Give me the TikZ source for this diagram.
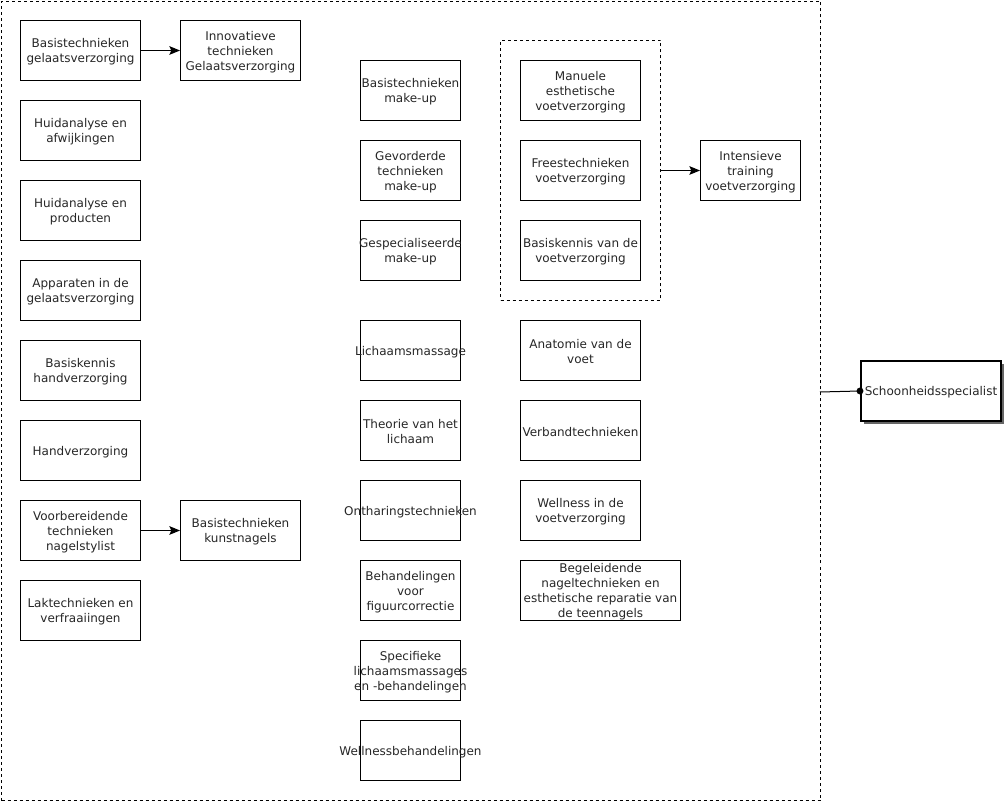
\documentclass[tikz,border=0pt]{standalone}
\usepackage{fontspec}
\setmainfont{DejaVu Sans}
\usetikzlibrary{arrows.meta,shadows}
\tikzset{
  box/.style={draw=black, line width=0.75pt, minimum width=90pt, minimum height=45pt, anchor=north west, inner sep=0pt},
  nbox/.style={box, minimum width=75pt},
  wbox/.style={box, minimum width=120pt},
  txt/.style={align=center, font=\fontsize{9}{11.25}\selectfont, text=black!85, inner sep=0pt, yshift=-1.1pt},
  dbox/.style={draw=black, line width=0.75pt, dash pattern=on 2.25pt off 2.25pt, anchor=north west, inner sep=0pt},
  arr/.style={line width=0.75pt, -{Stealth[length=8pt,width=6.5pt,inset=1.5pt]}},
}
\newcommand{\bx}[5]{\node[#1] (#2) at (#3) {}; \node[txt] (#2t) at (#2.center) {#4#5};}
\begin{document}
\begin{tikzpicture}[x=0.75pt,y=-0.75pt]
\useasboundingbox (0,0) rectangle (1008,805);
\node[dbox, minimum width=614.25pt, minimum height=599.25pt] (outer) at (1,1) {};
\node[dbox, minimum width=120pt, minimum height=195pt] (foot) at (500,40) {};
% column 1
\bx{box}{a1}{20,20}{Basistechnieken\\gelaatsverzorging}{}
\bx{box}{a2}{20,100}{Huidanalyse en\\afwijkingen}{}
\bx{box}{a3}{20,180}{Huidanalyse en\\producten}{}
\bx{box}{a4}{20,260}{Apparaten in de\\gelaatsverzorging}{}
\bx{box}{a5}{20,340}{Basiskennis\\handverzorging}{}
\bx{box}{a6}{20,420}{Handverzorging}{}
\bx{box}{a7}{20,500}{Voorbereidende\\technieken\\nagelstylist}{}
\bx{box}{a8}{20,580}{Laktechnieken en\\verfraaiingen}{}
% column 2
\bx{box}{b1}{180,20}{Innovatieve\\technieken\\Gelaatsverzorging}{}
\bx{box}{b2}{180,500}{Basistechnieken\\kunstnagels}{}
% column 3
\bx{nbox}{c1}{360,60}{Basistechnieken\\make-up}{}
\bx{nbox}{c2}{360,140}{Gevorderde\\technieken\\make-up}{}
\bx{nbox}{c3}{360,220}{Gespecialiseerde\\make-up}{}
\bx{nbox}{c4}{360,320}{Lichaamsmassage}{}
\bx{nbox}{c5}{360,400}{Theorie van het\\lichaam}{}
\bx{nbox}{c6}{360,480}{Ontharingstechnieken}{}
\bx{nbox}{c7}{360,560}{Behandelingen\\voor\\figuurcorrectie}{}
\bx{nbox}{c8}{360,640}{Specifieke\\lichaamsmassages\\en -behandelingen}{}
\bx{nbox}{c9}{360,720}{Wellnessbehandelingen}{}
% column 4
\bx{box}{d1}{520,60}{Manuele\\esthetische\\voetverzorging}{}
\bx{box}{d2}{520,140}{Freestechnieken\\voetverzorging}{}
\bx{box}{d3}{520,220}{Basiskennis van de\\voetverzorging}{}
\bx{box}{d4}{520,320}{Anatomie van de\\voet}{}
\bx{box}{d5}{520,400}{Verbandtechnieken}{}
\bx{box}{d6}{520,480}{Wellness in de\\voetverzorging}{}
\bx{wbox}{d7}{520,560}{Begeleidende\\nageltechnieken en\\esthetische reparatie van\\de teennagels}{}
% right
\bx{nbox}{e1}{700,140}{Intensieve\\training\\voetverzorging}{}
\node[box, line width=1.5pt, minimum width=105pt, fill=white, drop shadow={shadow xshift=2.25pt, shadow yshift=-2.25pt, fill=black!60, opacity=1}] (ss) at (860,360) {};
\node[txt] (sst) at (ss.center) {Schoonheidsspecialist};
% connectors
\draw[arr] (a1.east) -- (b1.west);
\draw[arr] (a7.east) -- (b2.west);
\draw[arr] (foot.east) -- (e1.west);
\coordinate (oc) at (820,392);
\draw[line width=0.75pt] (oc) -- (ss.west);
\fill (ss.west) circle (2.6pt);
\end{tikzpicture}
\end{document}
